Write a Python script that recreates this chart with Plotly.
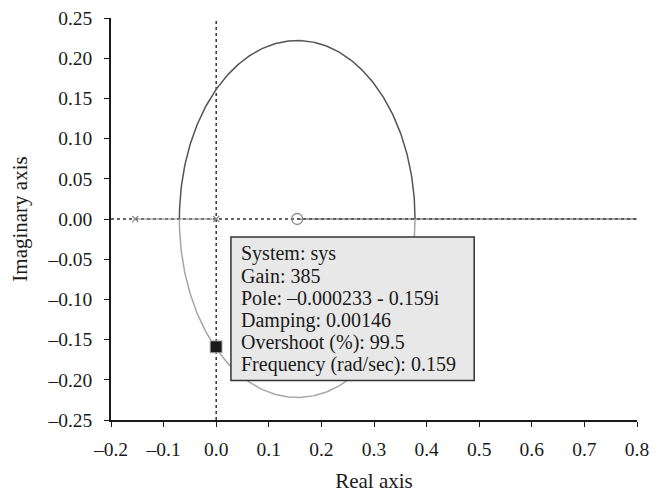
import numpy as np
import plotly.graph_objects as go

# Data
poles_re = [-0.154, 0.0]
poles_im = [0.0, 0.0]
zeros_re = [0.154]
zeros_im = [0.0]
circle_center = 0.154
circle_rx = 0.224
circle_ry = 0.222
selected_re = [-0.000233]
selected_im = [-0.159]
x_ticks = [-0.2, -0.1, 0.0, 0.1, 0.2, 0.3, 0.4, 0.5, 0.6, 0.7, 0.8]
y_ticks = [-0.25, -0.20, -0.15, -0.10, -0.05, 0.0, 0.05, 0.10, 0.15, 0.20, 0.25]
info_lines = ["System: sys", "Gain: 385", "Pole: \u20130.000233 - 0.159i",
              "Damping: 0.00146", "Overshoot (%): 99.5", "Frequency (rad/sec): 0.159"]

FONT = "Liberation Serif"

def fmt(v, d):
    s = f"{abs(v):.{d}f}"
    return ("\u2013" + s) if v < -1e-12 else s

t = np.linspace(0, np.pi, 200)
up_x = circle_center + circle_rx * np.cos(t)
up_y = circle_ry * np.sin(t)
lo_x = circle_center + circle_rx * np.cos(t)
lo_y = -circle_ry * np.sin(t)

fig = go.Figure()
fig.add_trace(go.Scatter(x=[-0.2, 0.8], y=[0, 0], mode="lines",
                         line=dict(color="#333333", width=1.5, dash="dot"), hoverinfo="skip"))
fig.add_trace(go.Scatter(x=[0, 0], y=[-0.25, 0.25], mode="lines",
                         line=dict(color="#333333", width=1.5, dash="dot"), hoverinfo="skip"))
fig.add_trace(go.Scatter(x=[poles_re[0], poles_re[1]], y=[0, 0], mode="lines",
                         line=dict(color="#8c8c8c", width=1.2), hoverinfo="skip"))
fig.add_trace(go.Scatter(x=[zeros_re[0], 0.8], y=[0, 0], mode="lines",
                         line=dict(color="#555555", width=1.2), hoverinfo="skip"))
fig.add_trace(go.Scatter(x=up_x, y=up_y, mode="lines",
                         line=dict(color="#555555", width=1.5), hoverinfo="skip"))
fig.add_trace(go.Scatter(x=lo_x, y=lo_y, mode="lines",
                         line=dict(color="#a6a6a6", width=1.5), hoverinfo="skip"))
fig.add_trace(go.Scatter(x=poles_re, y=poles_im, mode="markers",
                         marker=dict(symbol="x-thin", size=6, line=dict(color="#888888", width=1.2))))
fig.add_trace(go.Scatter(x=zeros_re, y=zeros_im, mode="markers",
                         marker=dict(symbol="circle-open", size=11, color="#888888", line=dict(width=1.3))))
fig.add_trace(go.Scatter(x=selected_re, y=selected_im, mode="markers",
                         marker=dict(symbol="square", size=12, color="#1a1a1a",
                                     line=dict(color="#bbbbbb", width=1))))

# datatip box
fig.add_shape(type="rect", xref="x", yref="y", x0=0.028, x1=0.4905, y0=-0.2008, y1=-0.0223,
              fillcolor="#e8e8e8", line=dict(color="#333333", width=1.5), layer="above")
y0_line = -0.0434
pitch = 0.02752
for i, line in enumerate(info_lines):
    fig.add_annotation(x=0.0425, y=y0_line - i * pitch, xref="x", yref="y",
                       xanchor="left", yanchor="middle", text=line, showarrow=False,
                       font=dict(family=FONT, size=20, color="#1a1a1a"))

# page body has an 8px margin; compensate in figure size/margins
fig.update_layout(
    width=661, height=488,
    margin=dict(l=103, r=32, t=10, b=76),
    paper_bgcolor="white", plot_bgcolor="white",
    showlegend=False,
    font=dict(family=FONT, size=19.5, color="#1a1a1a"),
)
fig.update_xaxes(range=[-0.2, 0.8], tickvals=x_ticks, ticktext=[fmt(v, 1) for v in x_ticks],
                 automargin=False, ticklabelstandoff=6, ticklabeloverflow="allow",
                 showgrid=False, zeroline=False, showline=True, linecolor="#1a1a1a", linewidth=1.5,
                 ticks="outside", ticklen=5, tickwidth=1.3, tickcolor="#1a1a1a",
                 title=dict(text="Real axis", font=dict(family=FONT, size=21), standoff=14))
fig.update_yaxes(range=[-0.25, 0.25], tickvals=y_ticks, ticktext=[fmt(v, 2) for v in y_ticks],
                 automargin=False, ticklabelstandoff=8, ticklabeloverflow="allow",
                 showgrid=False, zeroline=False, showline=True, linecolor="#1a1a1a", linewidth=1.5,
                 ticks="outside", ticklen=5, tickwidth=1.3, tickcolor="#1a1a1a",
                 title=dict(text="Imaginary axis", font=dict(family=FONT, size=21), standoff=14))

fig.write_html("out.html")
